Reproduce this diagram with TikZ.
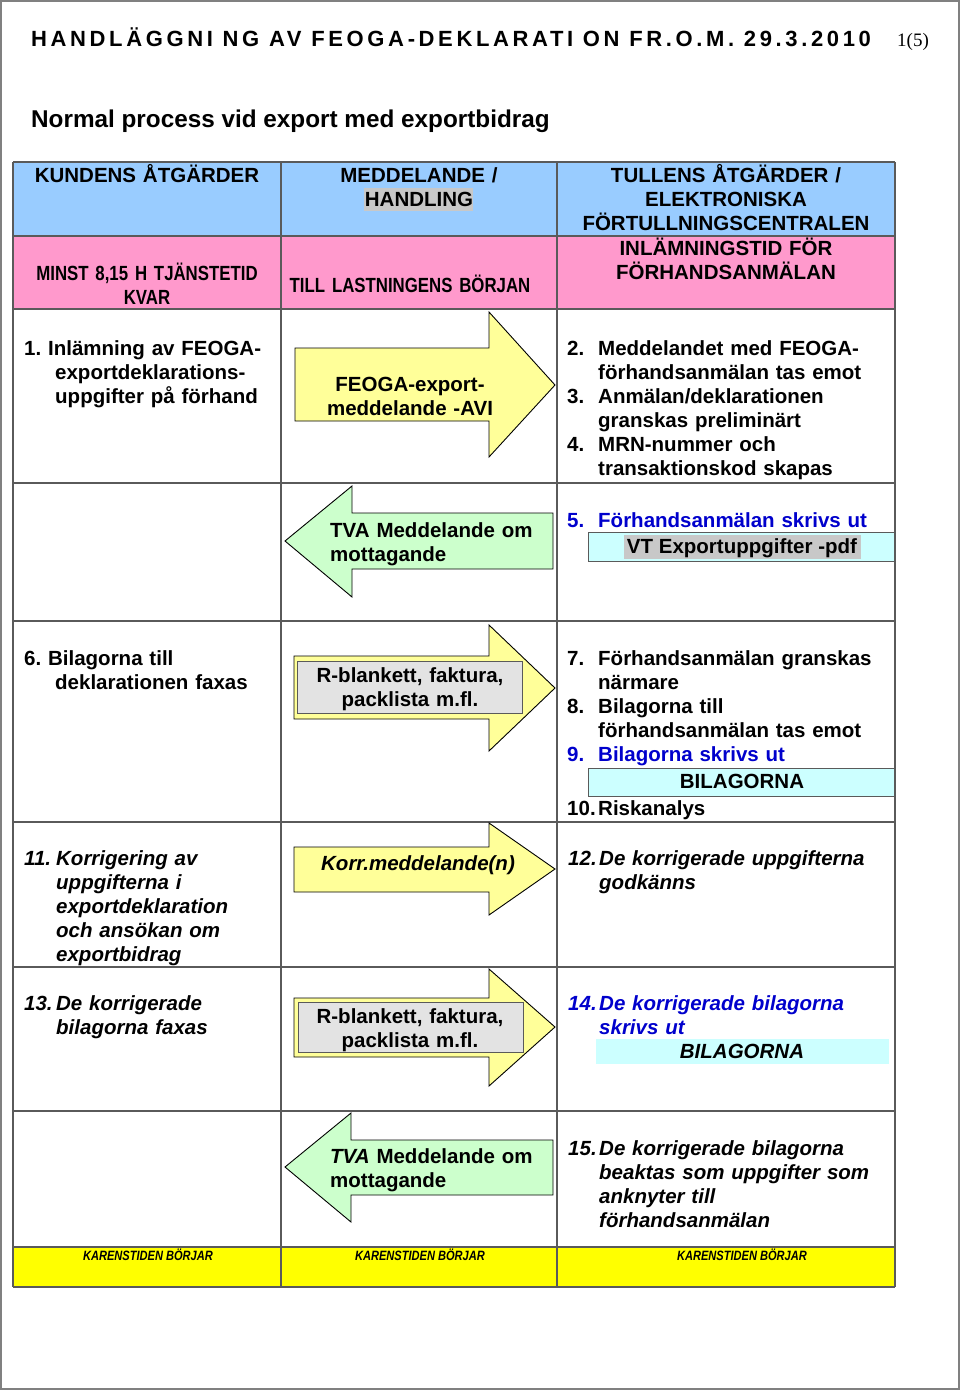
\documentclass[tikz,border=0pt]{standalone}
\usepackage{fontspec}
\setmainfont{Liberation Sans}
\newfontfamily\narrowfont[FakeStretch=0.82]{Liberation Sans}
\newfontfamily\spacedfont[LetterSpace=16.5]{Liberation Sans}
\newfontfamily\pagenofont{Liberation Serif}
\usepackage{xcolor}
\definecolor{headblue}{HTML}{99CCFF}
\definecolor{headpink}{HTML}{FF99CC}
\definecolor{arrowyellow}{HTML}{FFFF99}
\definecolor{arrowgreen}{HTML}{CCFFCC}
\definecolor{bandyellow}{HTML}{FFFF00}
\definecolor{printcyan}{HTML}{CCFFFF}
\definecolor{markgray}{HTML}{C8C8C8}
\definecolor{docgray}{HTML}{E3E3E3}
\definecolor{tullblue}{HTML}{0000CC}
\definecolor{gridgray}{HTML}{5A5A5A}
\newcommand{\stepno}[1]{\makebox[31pt][l]{#1}}
\newcommand{\stepind}{\hspace*{31pt}}
\frenchspacing

\tikzset{
  grid line/.style={draw=gridgray,line width=1.5pt},
  fwd/.style={draw=black,line width=0.9pt,fill=arrowyellow},
  back/.style={draw=black,line width=0.9pt,fill=arrowgreen},
  txt/.style={anchor=base west,inner sep=0pt,align=left,text width=#1},
  txt/.default=328pt,
  ctxt/.style={anchor=base,inner sep=0pt,align=center,text width=#1},
  ctxt/.default=260pt,
  corr/.style={font=\bfseries\itshape\fontsize{20.5}{24}\selectfont},
  printbox/.style={fill=printcyan,draw=gridgray,line width=1pt},
  docbox/.style={fill=docgray,draw=gridgray,line width=1pt}
}

\begin{document}
\begin{tikzpicture}[x=1pt,y=-1pt,font=\bfseries\fontsize{20.5}{24}\selectfont]
      \useasboundingbox (0,0) rectangle (960,1390);
      \draw[gray,line width=1.5pt] (1,1) rectangle (959,1389);
      \node[anchor=base west,inner sep=0pt] (title) at (31,46) {\spacedfont\fontsize{22}{24}\selectfont HANDLÄGGNI NG AV FEOGA-DEKLARATI ON FR.O.M. 29.3.2010};
      \node[anchor=base west,inner sep=0pt] (pageno) at (897,46) {\pagenofont\mdseries\fontsize{19}{20}\selectfont 1(5)};
      \node[anchor=base west,inner sep=0pt] (subtitle) at (31,127) {\fontsize{24.3}{26}\selectfont Normal process vid export med exportbidrag};
      % bands and boxes
      \fill[headblue] (13,162) rectangle (895,236);
      \fill[headpink] (13,236) rectangle (895,309);
      \fill[bandyellow] (13,1247) rectangle (895,1287);
      \fill[markgray] (364,188) rectangle (473,211);
      \draw[printbox] (588,532) rectangle (895,561);
      \fill[markgray] (624,535) rectangle (861,559);
      \draw[printbox] (588,768) rectangle (895,796);
      \fill[printcyan] (596,1039) rectangle (889,1064);
      % table
      \foreach \gx in {13,281,557,895}
        \draw[grid line] (\gx,162) -- (\gx,1287);
      \foreach \gy in {162,236,309,483,621,822,967,1111,1247,1287}
        \draw[grid line] (13,\gy) -- (895,\gy);
      % header
      \node[ctxt] (kund) at (147,182) {KUNDENS ÅTGÄRDER};
      \node[ctxt] (medd) at (419,182) {MEDDELANDE /\\HANDLING};
      \node[ctxt=330pt] (tull) at (726,182) {TULLENS ÅTGÄRDER /\\ELEKTRONISKA\\FÖRTULLNINGSCENTRALEN};
      \node[ctxt] (kvar) at (147,280) {\narrowfont MINST 8,15 H TJÄNSTETID\\KVAR};
      \node[ctxt=270pt] (till) at (410,292) {\narrowfont TILL LASTNINGENS BÖRJAN};
      \node[ctxt=330pt] (inlamning) at (726,255) {INLÄMNINGSTID FÖR\\FÖRHANDSANMÄLAN};
      % row 1
      \node[txt=257pt] (step1) at (24,355) {1. Inlämning av FEOGA-\\\stepind exportdeklarations-\\\stepind uppgifter på förhand};
      \draw[fwd] (295,348) -- (489,348) -- (489,312) -- (555,385) -- (489,457) -- (489,421) -- (295,421) -- cycle;
      \node[ctxt=200pt] (avi) at (410,391) {FEOGA-export-\\meddelande -AVI};
      \node[txt] (step2) at (567,355) {\stepno{2.}Meddelandet med FEOGA-\\\stepind förhandsanmälan tas emot\\\stepno{3.}Anmälan/deklarationen\\\stepind granskas preliminärt\\\stepno{4.}MRN-nummer och\\\stepind transaktionskod skapas};
      % row 2
      \draw[back] (285,541) -- (352,486) -- (352,513) -- (553,513) -- (553,569) -- (352,569) -- (352,597) -- cycle;
      \node[txt=220pt] (kvitto) at (330,537) {TVA Meddelande om\\mottagande};
      \node[txt,text=tullblue] (step5) at (567,527) {\stepno{5.}Förhandsanmälan skrivs ut};
      \node[anchor=base,inner sep=0pt] (vtpdf) at (742,553) {VT Exportuppgifter -pdf};
      % row 3
      \node[txt=257pt] (step6) at (24,665) {6. Bilagorna till\\\stepind deklarationen faxas};
      \draw[fwd] (294,656) -- (489,656) -- (489,625) -- (555,688) -- (489,751) -- (489,719) -- (294,719) -- cycle;
      \draw[docbox] (297,661) rectangle (522,713);
      \node[ctxt=225pt] (bilagor) at (410,682) {R-blankett, faktura,\\packlista m.fl.};
      \node[txt] (step7) at (567,665) {\stepno{7.}Förhandsanmälan granskas\\\stepind närmare\\\stepno{8.}Bilagorna till\\\stepind förhandsanmälan tas emot};
      \node[txt,text=tullblue] (step9) at (567,761) {\stepno{9.}Bilagorna skrivs ut};
      \node[anchor=base,inner sep=0pt] (bilagorna) at (742,788) {BILAGORNA};
      \node[txt] (step10) at (567,815) {\stepno{10.}Riskanalys};
      % row 4
      \node[txt=257pt,corr] (step11) at (24,865) {\makebox[32pt][l]{11.}Korrigering av\\\hspace*{32pt}uppgifterna i\\\hspace*{32pt}exportdeklaration\\\hspace*{32pt}och ansökan om\\\hspace*{32pt}exportbidrag};
      \draw[fwd] (294,847) -- (489,847) -- (489,823) -- (555,869) -- (489,915) -- (489,892) -- (294,892) -- cycle;
      \node[anchor=base,inner sep=0pt,corr] (korr) at (418,870) {Korr.meddelande(n)};
      \node[txt,corr] (step12) at (568,865) {\stepno{12.}De korrigerade uppgifterna\\\stepind godkänns};
      % row 5
      \node[txt=257pt,corr] (step13) at (24,1010) {\makebox[32pt][l]{13.}De korrigerade\\\hspace*{32pt}bilagorna faxas};
      \draw[fwd] (294,998) -- (489,998) -- (489,969) -- (555,1027) -- (489,1086) -- (489,1057) -- (294,1057) -- cycle;
      \draw[docbox] (298,1002) rectangle (523,1052);
      \node[ctxt=225pt] (bilagor2) at (410,1023) {R-blankett, faktura,\\packlista m.fl.};
      \node[txt,corr,text=tullblue] (step14) at (568,1010) {\stepno{14.}De korrigerade bilagorna\\\stepind skrivs ut};
      \node[anchor=base,inner sep=0pt,corr] (bilagorna2) at (742,1058) {BILAGORNA};
      % row 6
      \draw[back] (285,1167) -- (351,1113) -- (351,1140) -- (553,1140) -- (553,1195) -- (351,1195) -- (351,1222) -- cycle;
      \node[txt=220pt] (kvitto2) at (330,1163) {\textit{TVA} Meddelande om\\mottagande};
      \node[txt,corr] (step15) at (568,1155) {\stepno{15.}De korrigerade bilagorna\\\stepind beaktas som uppgifter som\\\stepind anknyter till\\\stepind förhandsanmälan};
      % karens
      \foreach \kx/\kn in {148/kar1,420/kar2,742/kar3}
        \node[anchor=base,inner sep=0pt] (\kn) at (\kx,1260) {\narrowfont\itshape\fontsize{13.5}{15}\selectfont KARENSTIDEN BÖRJAR};
    \end{tikzpicture}
\end{document}
